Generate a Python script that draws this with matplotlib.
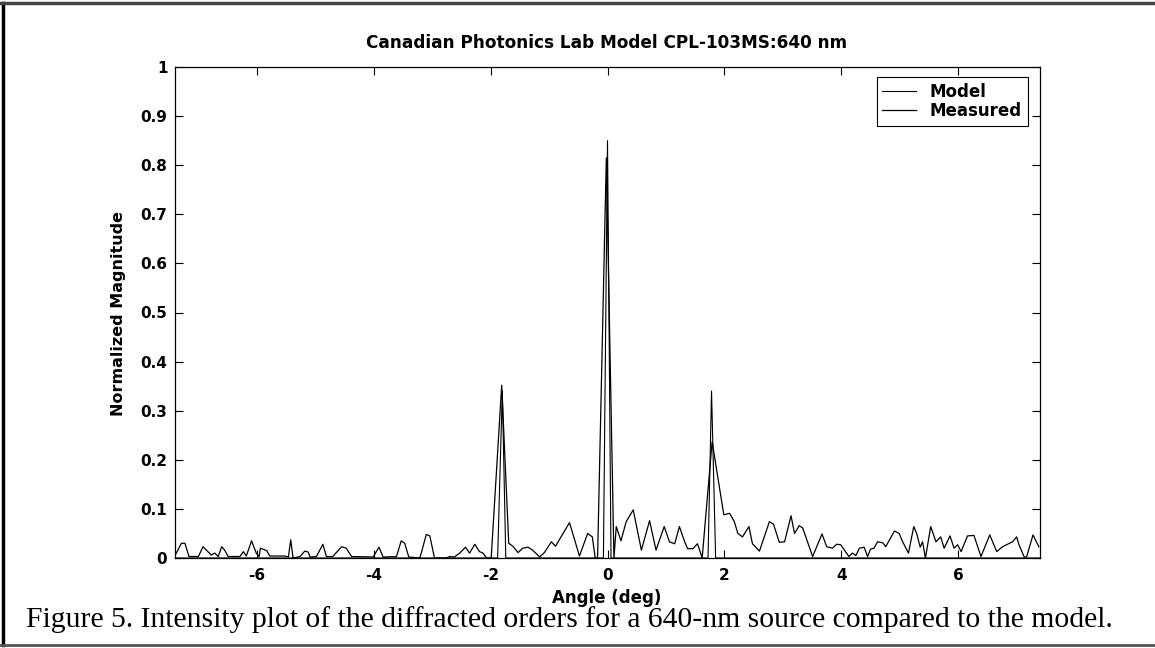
import matplotlib
matplotlib.use("Agg")
import matplotlib.pyplot as plt
from matplotlib.lines import Line2D

plt.rcParams['axes.unicode_minus'] = False

title = "Canadian Photonics Lab Model CPL-103MS:640 nm"
xlabel = "Angle (deg)"
ylabel = "Normalized Magnitude"
caption = "Figure 5. Intensity plot of the diffracted orders for a 640-nm source compared to the model."
series_names = ["Model", "Measured"]

x_ticks = [-6, -4, -2, 0, 2, 4, 6]
y_ticks = [0, 0.1, 0.2, 0.3, 0.4, 0.5, 0.6, 0.7, 0.8, 0.9, 1]
y_tick_labels = ["0", "0.1", "0.2", "0.3", "0.4", "0.5", "0.6", "0.7", "0.8", "0.9", "1"]

model_angle = [-7.4, -1.88, -1.80, -1.74, -0.07, 0.0, 0.06, 1.72, 1.78, 1.85, 7.4]
model_value = [0.0, 0.0, 0.34, 0.0, 0.0, 0.85, 0.0, 0.0, 0.34, 0.0, 0.0]

measured_angle = [
    -7.40, -7.29, -7.23, -7.16, -7.00, -6.92, -6.78, -6.72, -6.66, -6.60,
    -6.55, -6.49, -6.29, -6.23, -6.18, -6.09, -6.01, -5.96, -5.94, -5.83,
    -5.78, -5.52, -5.46, -5.42, -5.38, -5.26, -5.18, -5.12, -5.09, -4.98,
    -4.87, -4.81, -4.70, -4.55, -4.47, -4.38, -4.01, -3.91, -3.84, -3.61,
    -3.53, -3.47, -3.40, -3.21, -3.10, -3.04, -2.96, -2.76, -2.70, -2.62,
    -2.53, -2.43, -2.36, -2.27, -2.19, -2.13, -2.07, -1.99, -1.81, -1.69,
    -1.62, -1.53, -1.45, -1.36, -1.28, -1.16, -1.08, -0.96, -0.89, -0.65,
    -0.48, -0.34, -0.26, -0.21, -0.17, -0.02, 0.11, 0.15, 0.23, 0.32,
    0.44, 0.58, 0.72, 0.83, 0.97, 1.06, 1.15, 1.23, 1.32, 1.37,
    1.46, 1.54, 1.62, 1.79, 1.99, 2.09, 2.17, 2.23, 2.31, 2.42,
    2.48, 2.60, 2.77, 2.84, 2.94, 3.03, 3.14, 3.20, 3.28, 3.34,
    3.51, 3.67, 3.75, 3.85, 3.92, 3.99, 4.13, 4.19, 4.25, 4.31,
    4.39, 4.45, 4.50, 4.56, 4.62, 4.71, 4.76, 4.91, 4.99, 5.05,
    5.15, 5.24, 5.29, 5.35, 5.39, 5.44, 5.53, 5.62, 5.70, 5.76,
    5.86, 5.93, 5.99, 6.05, 6.16, 6.27, 6.39, 6.54, 6.66, 6.76,
    6.93, 7.00, 7.04, 7.13, 7.17, 7.28, 7.38,
]
measured_value = [
    0.005, 0.030, 0.030, 0.003, 0.003, 0.023, 0.006, 0.010, 0.003, 0.023,
    0.016, 0.003, 0.003, 0.013, 0.004, 0.035, 0.010, 0.003, 0.020, 0.015,
    0.004, 0.004, 0.002, 0.037, 0.000, 0.003, 0.014, 0.012, 0.002, 0.003,
    0.028, 0.003, 0.003, 0.023, 0.020, 0.003, 0.002, 0.022, 0.002, 0.003,
    0.035, 0.030, 0.002, 0.000, 0.048, 0.045, 0.000, 0.000, 0.003, 0.002,
    0.010, 0.022, 0.010, 0.028, 0.013, 0.010, 0.000, 0.000, 0.352, 0.030,
    0.024, 0.011, 0.020, 0.022, 0.016, 0.002, 0.011, 0.033, 0.024, 0.072,
    0.004, 0.050, 0.043, 0.000, 0.000, 0.815, 0.000, 0.064, 0.035, 0.074,
    0.098, 0.016, 0.076, 0.016, 0.064, 0.033, 0.029, 0.064, 0.033, 0.019,
    0.019, 0.029, 0.000, 0.237, 0.088, 0.091, 0.074, 0.050, 0.043, 0.064,
    0.029, 0.014, 0.074, 0.069, 0.032, 0.033, 0.086, 0.050, 0.066, 0.061,
    0.003, 0.049, 0.023, 0.020, 0.028, 0.027, 0.003, 0.010, 0.005, 0.020,
    0.022, 0.003, 0.018, 0.020, 0.033, 0.031, 0.023, 0.055, 0.050, 0.033,
    0.010, 0.064, 0.050, 0.022, 0.033, 0.000, 0.064, 0.033, 0.043, 0.020,
    0.045, 0.020, 0.027, 0.013, 0.045, 0.046, 0.003, 0.047, 0.013, 0.023,
    0.033, 0.043, 0.027, 0.002, 0.002, 0.047, 0.023,
]

W, H = 1155, 648
fig = plt.figure(figsize=(W / 100, H / 100), dpi=100)
fig.patch.set_facecolor("white")

ax = fig.add_axes([175 / W, 1 - 558 / H, (1040 - 175) / W, (558 - 67) / H])

ax.plot(measured_angle, measured_value, color="black", lw=0.9, label=series_names[1], zorder=3)
ax.plot(model_angle, model_value, color="black", lw=0.8, label=series_names[0], zorder=4)

ax.set_xlim(-7.4, 7.4)
ax.set_ylim(0, 1)
ax.set_xticks(x_ticks)
ax.set_xticklabels([str(t) for t in x_ticks])
ax.set_yticks(y_ticks)
ax.set_yticklabels(y_tick_labels)

ax.tick_params(axis="both", direction="in", length=5.8, width=0.8,
               top=True, right=True, labelsize=11)
ax.tick_params(axis="x", pad=7)
ax.tick_params(axis="y", pad=5.5)
for lbl in ax.get_xticklabels() + ax.get_yticklabels():
    lbl.set_fontweight("bold")
    lbl.set_family("DejaVu Sans")
for sp in ax.spines.values():
    sp.set_linewidth(0.9)
    sp.set_color("black")

handles = [Line2D([0], [0], color="black", lw=0.8), Line2D([0], [0], color="black", lw=0.9)]
leg = ax.legend(handles, series_names, loc="upper right", bbox_to_anchor=(0.986, 0.98),
                borderaxespad=0, fancybox=False, framealpha=1, edgecolor="black",
                prop={"family": "DejaVu Sans", "weight": "bold", "size": 12},
                handlelength=2.0, handletextpad=0.85, borderpad=0.35, labelspacing=0.1)
leg.get_frame().set_linewidth(0.8)

fig.text(607 / W, 1 - 43 / H, title, ha="center", va="center",
         fontsize=12.2, family="DejaVu Sans", fontweight="bold")
fig.text(607 / W, 1 - 598 / H, xlabel, ha="center", va="center",
         fontsize=12, family="DejaVu Sans", fontweight="bold")
fig.text(118 / W, 1 - 313 / H, ylabel, ha="center", va="center", rotation=90,
         fontsize=11.5, family="DejaVu Sans", fontweight="bold")
fig.text(569 / W, 1 - 620 / H, caption, ha="center", va="center",
         fontsize=21.3, family="Liberation Serif")

# page border of the scanned figure
fig.add_artist(Line2D([0.003, 0.003], [0.005, 0.995], transform=fig.transFigure,
                      color="black", lw=2.5))
fig.add_artist(Line2D([0, 1], [0.996, 0.996], transform=fig.transFigure,
                      color="#444444", lw=2.5))
fig.add_artist(Line2D([0, 1], [0.004, 0.004], transform=fig.transFigure,
                      color="#555555", lw=2.0))

fig.savefig("out.png", dpi=100)
